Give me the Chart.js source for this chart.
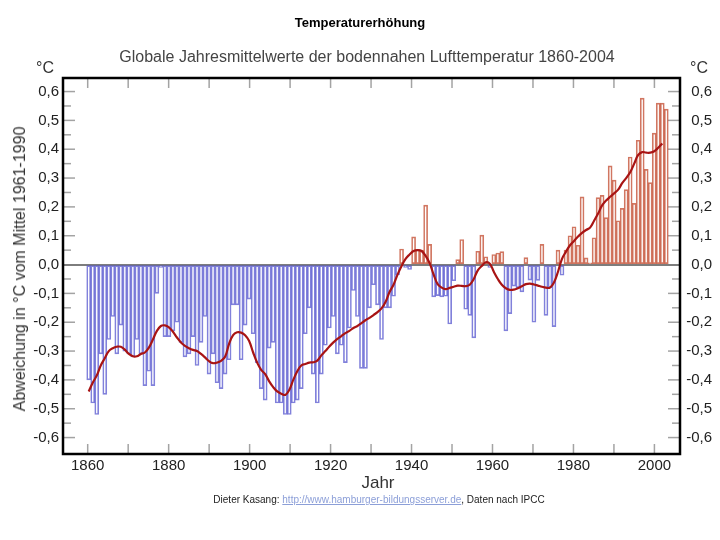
<!DOCTYPE html>
<html lang="de">
<head>
<meta charset="utf-8">
<title>Temperaturerhöhung</title>
<script src="https://cdn.jsdelivr.net/npm/chart.js@4/dist/chart.umd.min.js"></script>
<style>
  html, body { margin: 0; padding: 0; background: #fff; }
  #wrap { position: relative; width: 720px; height: 540px; overflow: hidden; font-family: "Liberation Sans", Arial, sans-serif; }
  #c { position: absolute; left: 0; top: 0; }
  .t { position: absolute; transform: translate(-50%, -50%); white-space: nowrap; line-height: 1; }
  #title { left: 360px; top: 22px; font-size: 13px; font-weight: bold; color: #000; }
  #subtitle { left: 367px; top: 57px; font-size: 16px; color: #444; }
  #degL { left: 45px; top: 68px; font-size: 16px; color: #333; }
  #degR { left: 699px; top: 68px; font-size: 16px; color: #333; }
  #ylab { left: 20px; top: 269px; font-size: 16px; color: #333; transform: translate(-50%, -50%) rotate(-90deg); }
  #xlab { left: 378px; top: 482px; font-size: 17px; color: #333; }
  #foot { left: 379px; top: 500px; font-size: 10px; color: #222; }
  #foot span.link { color: #8c9fd8; text-decoration: underline; }
</style>
</head>
<body>
<div id="wrap">
  <canvas id="c" width="720" height="540"></canvas>
  <div class="t" id="title">Temperaturerhöhung</div>
  <div class="t" id="subtitle">Globale Jahresmittelwerte der bodennahen Lufttemperatur 1860-2004</div>
  <div class="t" id="degL">°C</div>
  <div class="t" id="degR">°C</div>
  <div class="t" id="ylab">Abweichung in °C vom Mittel 1961-1990</div>
  <div class="t" id="xlab">Jahr</div>
  <div class="t" id="foot">Dieter Kasang: <span class="link">http://www.hamburger-bildungsserver.de</span>, Daten nach IPCC</div>
</div>
<script>
// ---- data ----
const firstYear = 1860;           // first bar: 1860, last bar: 2004
// yearly anomalies (°C, relative to 1961-1990)
const anomalies = [
  -0.40, -0.48, -0.52, -0.31, -0.45, -0.26, -0.18, -0.31, -0.21, -0.30,   // 1860
  -0.31, -0.32, -0.26, -0.31, -0.42, -0.37, -0.42, -0.10, -0.01, -0.25,   // 1870
  -0.25, -0.23, -0.20, -0.27, -0.32, -0.31, -0.25, -0.35, -0.27, -0.18,   // 1880
  -0.38, -0.31, -0.41, -0.43, -0.38, -0.33, -0.14, -0.14, -0.33, -0.21,   // 1890
  -0.12, -0.24, -0.34, -0.43, -0.47, -0.29, -0.27, -0.48, -0.48, -0.52,   // 1900
  -0.52, -0.48, -0.47, -0.43, -0.24, -0.15, -0.38, -0.48, -0.38, -0.28,   // 1910
  -0.22, -0.18, -0.31, -0.28, -0.34, -0.22, -0.09, -0.18, -0.36, -0.36,   // 1920
  -0.15, -0.07, -0.14, -0.26, -0.15, -0.15, -0.11, -0.035, 0.054, -0.01,  // 1930
  -0.017, 0.096, 0.052, 0.05, 0.206, 0.07, -0.112, -0.108, -0.112, -0.11, // 1940
  -0.206, -0.056, 0.017, 0.087, -0.155, -0.176, -0.254, 0.046, 0.102, 0.027, // 1950
  -0.01, 0.035, 0.04, 0.045, -0.23, -0.17, -0.075, -0.08, -0.095, 0.024,  // 1960
  -0.054, -0.20, -0.055, 0.07, -0.176, -0.08, -0.215, 0.05, -0.037, 0.05, // 1970
  0.10, 0.131, 0.067, 0.235, 0.023, 0.006, 0.093, 0.232, 0.24, 0.163,     // 1980
  0.342, 0.293, 0.152, 0.195, 0.26, 0.373, 0.212, 0.431, 0.577, 0.33,     // 1990
  0.284, 0.456, 0.56, 0.56, 0.539                                         // 2000
];
// smoothed curve (°C), 1860-2003
const smoothed = [
  -0.44, -0.41, -0.385, -0.35, -0.325, -0.30, -0.29, -0.285, -0.285, -0.295,
  -0.31, -0.318, -0.318, -0.31, -0.305, -0.288, -0.26, -0.23, -0.213, -0.211,
  -0.218, -0.233, -0.253, -0.27, -0.282, -0.29, -0.296, -0.30, -0.31, -0.322,
  -0.335, -0.342, -0.34, -0.334, -0.32, -0.275, -0.245, -0.235, -0.236, -0.245,
  -0.265, -0.305, -0.34, -0.365, -0.38, -0.405, -0.425, -0.44, -0.448, -0.452,
  -0.435, -0.40, -0.37, -0.35, -0.345, -0.34, -0.339, -0.333, -0.315, -0.30,
  -0.284, -0.27, -0.258, -0.248, -0.238, -0.23, -0.22, -0.213, -0.203, -0.193,
  -0.185, -0.175, -0.165, -0.152, -0.13, -0.095, -0.07, -0.035, -0.005, 0.02,
  0.035, 0.047, 0.05, 0.047, 0.03, 0.005, -0.035, -0.068, -0.08, -0.085,
  -0.081, -0.077, -0.073, -0.074, -0.075, -0.07, -0.05, -0.02, -0.005, 0.008,
  0.003, -0.025, -0.05, -0.07, -0.082, -0.088, -0.087, -0.082, -0.075, -0.068,
  -0.066, -0.069, -0.073, -0.077, -0.08, -0.08, -0.062, -0.025, 0.02, 0.045,
  0.067, 0.082, 0.097, 0.11, 0.12, 0.128, 0.152, 0.177, 0.205, 0.222,
  0.235, 0.247, 0.26, 0.282, 0.30, 0.32, 0.35, 0.38, 0.39, 0.388,
  0.388, 0.393, 0.405, 0.42
];
const xTickYears = [1860, 1880, 1900, 1920, 1940, 1960, 1980, 2000];
const xMinorYears = [1860, 1870, 1880, 1890, 1900, 1910, 1920, 1930, 1940, 1950, 1960, 1970, 1980, 1990, 2000];
const yTickValues = [-0.6, -0.5, -0.4, -0.3, -0.2, -0.1, 0, 0.1, 0.2, 0.3, 0.4, 0.5, 0.6];
const yTickLabels = ['-0,6', '-0,5', '-0,4', '-0,3', '-0,2', '-0,1', '0,0', '0,1', '0,2', '0,3', '0,4', '0,5', '0,6'];
const yMinorValues = [-0.55, -0.45, -0.35, -0.25, -0.15, -0.05, 0.05, 0.15, 0.25, 0.35, 0.45, 0.55];

// ---- styling ----
const BLUE = 'rgba(80, 80, 205, 0.72)';
const RED = 'rgba(196, 80, 52, 0.78)';
const LINE = '#a81414';

const barPoints = anomalies.map((v, i) => ({ x: firstYear + i, y: v }));
const linePoints = smoothed.map((v, i) => ({ x: firstYear + i, y: v }));

const frameTicks = {
  id: 'frameTicks',
  beforeDatasetsDraw(chart) {
    const { ctx, chartArea: a, scales } = chart;
    const y = scales.y, x = scales.x;
    ctx.save();
    ctx.strokeStyle = '#a3a3a3';
    ctx.lineWidth = 1.5;
    const seg = (x1, y1, x2, y2) => { ctx.beginPath(); ctx.moveTo(x1, y1); ctx.lineTo(x2, y2); ctx.stroke(); };
    yTickValues.forEach(v => {
      if (v === 0) return;
      const py = y.getPixelForValue(v);
      seg(a.left, py, a.left + 12, py);
      seg(a.right, py, a.right - 12, py);
    });
    yMinorValues.forEach(v => {
      const py = y.getPixelForValue(v);
      seg(a.left, py, a.left + 8, py);
      seg(a.right, py, a.right - 8, py);
    });
    xMinorYears.forEach(yr => {
      const px = x.getPixelForValue(yr);
      seg(px, a.top, px, a.top + 10);
      seg(px, a.bottom, px, a.bottom - 10);
    });
    ctx.restore();
  },
  afterDraw(chart) {
    const { ctx, chartArea: a } = chart;
    ctx.save();
    ctx.strokeStyle = '#000';
    ctx.lineWidth = 2.5;
    ctx.strokeRect(a.left, a.top, a.right - a.left, a.bottom - a.top);
    ctx.restore();
  }
};

const yCommon = {
  min: -0.657,
  max: 0.647,
  afterBuildTicks: s => { s.ticks = yTickValues.map(v => ({ value: v })); },
  border: { display: false },
};

new Chart(document.getElementById('c'), {
  type: 'bar',
  data: {
    datasets: [
      {
        type: 'line',
        data: linePoints,
        xAxisID: 'xb',
        yAxisID: 'y',
        borderColor: LINE,
        borderWidth: 2.2,
        pointRadius: 0,
        tension: 0.4,
        fill: false,
        order: 0
      },
      {
        type: 'bar',
        data: barPoints,
        xAxisID: 'xb',
        yAxisID: 'y',
        backgroundColor: 'rgba(0,0,0,0)',
        borderColor: anomalies.map(v => v < 0 ? BLUE : RED),
        borderWidth: 1,
        borderSkipped: false,
        barPercentage: 1,
        categoryPercentage: 1,
        grouped: false,
        order: 1
      }
    ]
  },
  options: {
    responsive: false,
    maintainAspectRatio: false,
    animation: false,
    devicePixelRatio: 1,
    layout: { padding: { top: 78, right: 8, bottom: 0, left: 0 } },
    plugins: {
      legend: { display: false },
      tooltip: { enabled: false },
      title: { display: false }
    },
    scales: {
      xb: {
        type: 'linear',
        display: false,
        offset: false,
        min: 1853.59,
        max: 2007.42
      },
      x: {
        type: 'linear',
        position: 'bottom',
        offset: false,
        min: 1853.9,
        max: 2006.32,
        afterBuildTicks: s => { s.ticks = xTickYears.map(v => ({ value: v })); },
        afterFit: s => { s.height = 86; },
        grid: { display: false, offset: false },
        border: { display: false },
        ticks: {
          autoSkip: false,
          maxRotation: 0,
          padding: -5,
          color: '#222',
          font: { family: '"Liberation Sans", Arial, sans-serif', size: 15 },
          callback: (v) => String(v)
        }
      },
      y: Object.assign({}, yCommon, {
        position: 'left',
        afterFit: s => { s.width = 63; },
        grid: {
          drawOnChartArea: true,
          drawTicks: false,
          lineWidth: 2,
          color: c => (c.tick && c.tick.value === 0) ? '#7d7d7d' : 'rgba(0,0,0,0)'
        },
        ticks: {
          padding: 4,
          color: '#222',
          font: { family: '"Liberation Sans", Arial, sans-serif', size: 15 },
          callback: (v, i) => yTickLabels[i]
        }
      }),
      y2: Object.assign({}, yCommon, {
        position: 'right',
        afterFit: s => { s.width = 32; },
        grid: { display: false },
        ticks: {
          crossAlign: 'far',
          padding: 4,
          color: '#222',
          font: { family: '"Liberation Sans", Arial, sans-serif', size: 15 },
          callback: (v, i) => yTickLabels[i]
        }
      })
    }
  },
  plugins: [frameTicks]
});
</script>
</body>
</html>
